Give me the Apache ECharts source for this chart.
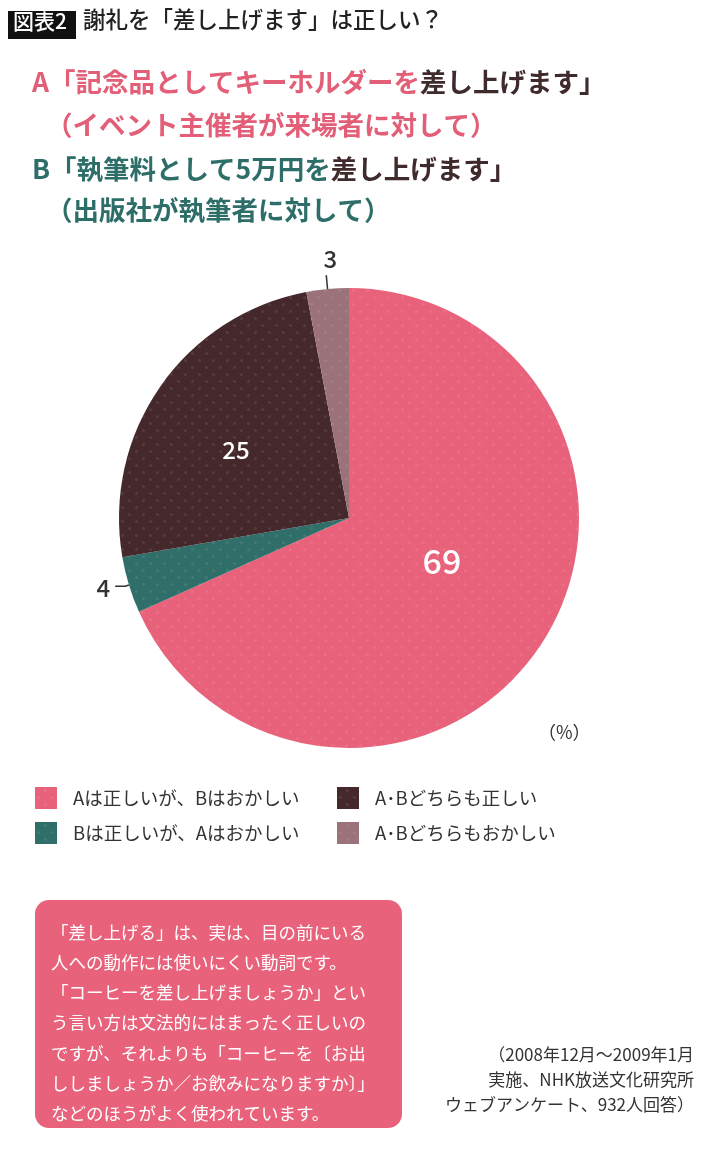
<!DOCTYPE html>
<html>
<head>
<meta charset="utf-8">
<script src="https://cdn.jsdelivr.net/npm/echarts@6/dist/echarts.min.js"></script>
<style>
  html, body { margin: 0; padding: 0; background: #fff; }
  #main { width: 720px; height: 1152px; }
</style>
</head>
<body>
<div id="main"></div>
<script>
// 回答区分と割合(%)
var categories = ['Aは正しいが、Bはおかしい', 'Bは正しいが、Aはおかしい', 'A･Bどちらも正しい', 'A･Bどちらもおかしい'];
var values = [69, 4, 25, 3];
var colors = ['#e9627b', '#2f6e69', '#45282b', '#9b727a'];
var sourceLines = ['（2008年12月～2009年1月', '実施、NHK放送文化研究所', 'ウェブアンケート、932人回答）'];

var FONT = '"Noto Sans CJK JP", "Noto Sans", sans-serif';

var myChart = echarts.init(document.getElementById('main'));

// ドット模様
var dots = {
    symbol: 'circle',
    symbolSize: 0.45,
    dashArrayX: [[7, 7], [0, 7, 7, 0]],
    dashArrayY: [7, 0],
    color: 'rgba(255,255,255,0.09)'
};

// ラベルの位置調整
var labelOffsets = [[-6, -21], [0, 2], [-16, -1], [16, -16]];

var pieData = categories.map(function (name, i) {
    var d = {
        name: name,
        value: values[i],
        itemStyle: { color: colors[i], decal: dots }
    };
    if (i === 0 || i === 2) {
        d.label = {
            position: 'inside',
            color: '#fff',
            fontSize: i === 0 ? 34 : 24,
            fontWeight: 500,
            offset: labelOffsets[i]
        };
        d.labelLine = { show: false };
    } else {
        d.label = { position: 'outside', color: '#333', fontSize: 24, fontWeight: 500, distance: 2, offset: labelOffsets[i] };
        d.labelLine = {
            show: true,
            length: i === 3 ? 14 : 4,
            length2: i === 3 ? 0 : 10,
            lineStyle: { color: '#333', width: 1.5 }
        };
    }
    return d;
});

var legendText = { fontSize: 18.5, color: '#333', padding: [0, 0, 0, 11] };

var option = {
    textStyle: { fontFamily: FONT },
    animation: false,
    legend: [{
        orient: 'vertical',
        left: 30,
        top: 782,
        itemWidth: 22,
        itemHeight: 22,
        itemGap: 13,
        icon: 'rect',
        data: [categories[0], categories[1]],
        textStyle: legendText
    }, {
        orient: 'vertical',
        left: 332,
        top: 782,
        itemWidth: 22,
        itemHeight: 22,
        itemGap: 13,
        icon: 'rect',
        data: [categories[2], categories[3]],
        textStyle: legendText
    }],
    series: [{
        type: 'pie',
        center: [349, 518],
        radius: 230,
        startAngle: 90,
        clockwise: true,
        silent: true,
        label: { formatter: '{c}', fontFamily: FONT },
        itemStyle: { borderWidth: 0 },
        data: pieData
    }],
    graphic: [
        // 見出し
        { type: 'rect', left: 8, top: 11, shape: { width: 68, height: 28 }, style: { fill: '#111' } },
        { type: 'text', left: 13, top: 11, style: { text: '図表2', fill: '#fff', font: '500 21px ' + FONT } },
        { type: 'text', left: 83, top: 8, style: { text: '謝礼を「差し上げます」は正しい？', fill: '#222', font: '500 22.5px ' + FONT } },
        // 設問
        { type: 'text', left: 32, top: 69, style: {
            rich: {
                p: { fill: '#e35f77', font: 'bold 26.5px ' + FONT },
                d: { fill: '#3f2a2c', font: 'bold 26.5px ' + FONT }
            },
            text: '{p|A「記念品としてキーホルダーを}{d|差し上げます」}'
        } },
        { type: 'text', left: 46, top: 112, style: { text: '（イベント主催者が来場者に対して）', fill: '#e35f77', font: 'bold 26.5px ' + FONT } },
        { type: 'text', left: 32, top: 156, style: {
            rich: {
                g: { fill: '#2e6e69', font: 'bold 26.5px ' + FONT },
                d: { fill: '#3f2a2c', font: 'bold 26.5px ' + FONT }
            },
            text: '{g|B「執筆料として5万円を}{d|差し上げます」}'
        } },
        { type: 'text', left: 46, top: 197, style: { text: '（出版社が執筆者に対して）', fill: '#2e6e69', font: 'bold 26.5px ' + FONT } },
        // 単位
        { type: 'text', left: 538, top: 723, style: { text: '（%）', fill: '#333', font: '18px ' + FONT } },
        // 解説ボックス
        { type: 'rect', left: 35, top: 900, shape: { width: 367, height: 228, r: 14 }, style: { fill: '#e9627b' } },
        { type: 'text', left: 51, top: 917, style: {
            text: '「差し上げる」は、実は、目の前にいる\n人への動作には使いにくい動詞です。\n「コーヒーを差し上げましょうか」とい\nう言い方は文法的にはまったく正しいの\nですが、それよりも「コーヒーを〔お出\nししましょうか／お飲みになりますか〕」\nなどのほうがよく使われています。',
            fill: '#fff', font: '17.5px ' + FONT, lineHeight: 30.2
        } }
    ].concat(sourceLines.map(function (t, i) {
        // 出典
        return { type: 'text', right: 26, top: 1046 + i * 25, style: { text: t, fill: '#333', font: '17px ' + FONT } };
    }))
};

myChart.setOption(option);
</script>
</body>
</html>
